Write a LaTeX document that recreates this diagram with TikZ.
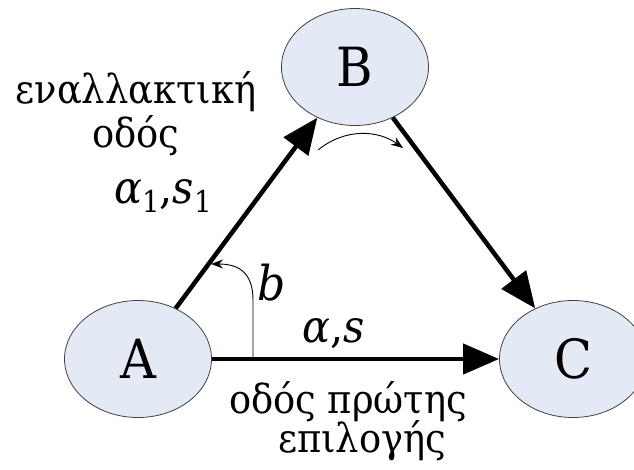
\documentclass[tikz,border=0pt]{standalone}
\usepackage{fontspec}
\newfontfamily\grserif{DejaVu Serif}[FakeStretch=0.92]
\usetikzlibrary{arrows.meta,shapes.geometric}
\definecolor{nodefill}{RGB}{227,234,246}
\newcommand\subsc[1]{\raisebox{-0.22em}{\fontsize{30}{30}\selectfont\upshape #1}}
\begin{document}
\begin{tikzpicture}[x=1pt,y=-1pt,
  state/.style={ellipse, draw=black!75, line width=0.8pt, fill=nodefill,
    minimum width=147pt, minimum height=117pt, inner sep=0pt,
    font=\grserif\fontsize{54}{54}\selectfont},
  road/.style={line width=4.5pt, -{Triangle[length=36pt,width=30pt]}},
  turn/.style={line width=0.9pt, -{Stealth[length=12pt,width=9pt]}},
  lbl/.style={font=\grserif\fontsize{40}{40}\selectfont, anchor=base, inner sep=0pt},
  mlbl/.style={font=\grserif\fontsize{45}{45}\selectfont, anchor=base west, inner sep=0pt},
]
\useasboundingbox (0,0) rectangle (634,469);
\node[state] (A) at (138,359) {A};
\node[state] (B) at (355,67) {B};
\node[state] (C) at (573,359) {C};
\draw[road] (A) -- (B);
\draw[road] (B) -- (C);
\draw[road] (A) -- (C);
\coordinate (b0) at (253,357);
\coordinate (b1) at (211,264);
\draw[turn] (b0) -- (253,300) .. controls (253,272) and (238,264) .. (b1);
\coordinate (t0) at (318,150);
\coordinate (t1) at (403,148);
\draw[turn] (t0) .. controls (345,128) and (378,130) .. (t1);
\node[lbl] (alt1) at (136,103) {εναλλακτική};
\node[lbl] (alt2) at (136,147) {οδός};
\node[mlbl] (a1) at (114,203) {\itshape α\subsc{1}\upshape,\itshape s\subsc{1}};
\node[mlbl, font=\grserif\fontsize{48}{48}\selectfont\itshape] (bl) at (257,300) {b};
\node[mlbl] (as) at (302,342) {\itshape α\upshape,\itshape s};
\node[lbl] (p1) at (348,413) {οδός πρώτης};
\node[lbl] (p2) at (362,452) {επιλογής};
\end{tikzpicture}
\end{document}
